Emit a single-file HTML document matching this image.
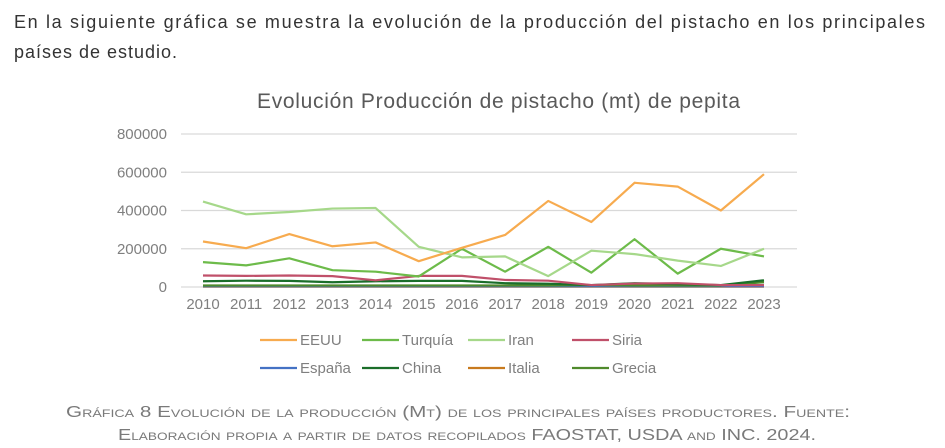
<!DOCTYPE html>
<html><head><meta charset="utf-8"><style>
html,body{margin:0;padding:0;background:#fff;}
svg{display:block;font-family:"Liberation Sans",sans-serif;}
</style></head><body>
<svg id="chart" width="945" height="448" viewBox="0 0 945 448">
<text x="14" y="28" font-size="18" fill="#333" textLength="911" lengthAdjust="spacing">En la siguiente gráfica se muestra la evolución de la producción del pistacho en los principales</text>
<text x="14" y="58" font-size="18" fill="#333" textLength="163" lengthAdjust="spacing">países de estudio.</text>
<text x="257" y="108" font-size="21" fill="#595959" textLength="483" lengthAdjust="spacing">Evolución Producción de pistacho (mt) de pepita</text>
<g id="grid"></g><g id="yt"></g><g id="xt"></g><g id="series"></g><g id="legend"></g>
<text x="66" y="417" font-size="16" fill="#7a7a7a" textLength="784" lengthAdjust="spacingAndGlyphs" style="font-variant:small-caps">Gráfica 8 Evolución de la producción (Mt) de los principales países productores. Fuente:</text>
<text x="118" y="440" font-size="16" fill="#7a7a7a" textLength="698" lengthAdjust="spacingAndGlyphs" style="font-variant:small-caps">Elaboración propia a partir de datos recopilados FAOSTAT, USDA and INC. 2024.</text>
</svg>
<script>
const years=["2010","2011","2012","2013","2014","2015","2016","2017","2018","2019","2020","2021","2022","2023"];
const yTicks=[0,200000,400000,600000,800000];
const eeuu=[238000,203000,277000,213000,233000,135000,205000,272000,450000,340000,545000,525000,400000,590000];
const turquia=[130000,113000,150000,88000,80000,55000,200000,80000,210000,75000,250000,70000,200000,160000];
const iran=[447000,380000,392000,410000,413000,210000,155000,160000,57000,190000,172000,138000,110000,200000];
const siria=[60000,58000,60000,57000,35000,58000,58000,37000,33000,10000,18000,20000,10000,10000];
const espana=[4000,4000,4000,4000,4000,4000,4000,4000,4000,4000,4000,4000,4000,4000];
const china=[30000,33000,32000,25000,30000,32000,32000,20000,17000,10000,20000,15000,10000,35000];
const italia=[2000,2000,2000,2000,2000,2000,2000,2000,2000,2000,2000,2000,2000,2000];
const grecia=[8000,8000,8000,8000,8000,8000,8000,8000,8000,10000,8000,8000,8000,25000];
const names=["EEUU","Turquía","Iran","Siria","España","China","Italia","Grecia"];
const NS="http://www.w3.org/2000/svg";
const X=i=>203+i*(764-203)/13, Y=v=>287-v*(153/800000);
function mk(tag,attrs,parent,txt){const e=document.createElementNS(NS,tag);for(const k in attrs)e.setAttribute(k,attrs[k]);if(txt!==undefined)e.textContent=txt;document.getElementById(parent).appendChild(e);return e;}
yTicks.forEach(t=>{
 const l=mk('line',{x1:181,x2:797,y1:Y(t),y2:Y(t),stroke:'#d9d9d9','stroke-width':1.3},'grid');
 
 
 const tx=mk('text',{x:167,y:Y(t)+5,'font-size':15,fill:'#7f7f7f','text-anchor':'end'},'yt',String(t));
 
 
});
years.forEach((y,i)=>{
 const tx=mk('text',{x:X(i),y:309,'font-size':15,fill:'#7f7f7f','text-anchor':'middle'},'xt',y);
 
 
});
const data=[eeuu,turquia,iran,siria,espana,china,italia,grecia];
const colors=["#f7ab4f","#6dbb4a","#a6d88a","#c0506a","#4472c4","#1b6e2a","#c87a1e","#4f8a2c"];
[6,4,7,5,3,1,2,0].forEach(k=>{
 const p=mk('polyline',{points:data[k].map((v,i)=>X(i)+','+Y(v)).join(' '),fill:'none',stroke:colors[k],'stroke-width':2.2,'stroke-linejoin':'round'},'series');
 
 
});
const lx=[260,362,468,572];
names.forEach((n,k)=>{
 const x=lx[k%4], y=k<4?340:368;
 const g=mk('g',{},'legend');
 
 
 const l=document.createElementNS(NS,'line');l.setAttribute('x1',x);l.setAttribute('x2',x+37);l.setAttribute('y1',y);l.setAttribute('y2',y);l.setAttribute('stroke',colors[k]);l.setAttribute('stroke-width',2.2);g.appendChild(l);
 const t=document.createElementNS(NS,'text');t.setAttribute('x',x+40);t.setAttribute('y',y+5);t.setAttribute('font-size',15);t.setAttribute('fill','#7f7f7f');t.textContent=n;g.appendChild(t);
});
</script>
</body></html>
